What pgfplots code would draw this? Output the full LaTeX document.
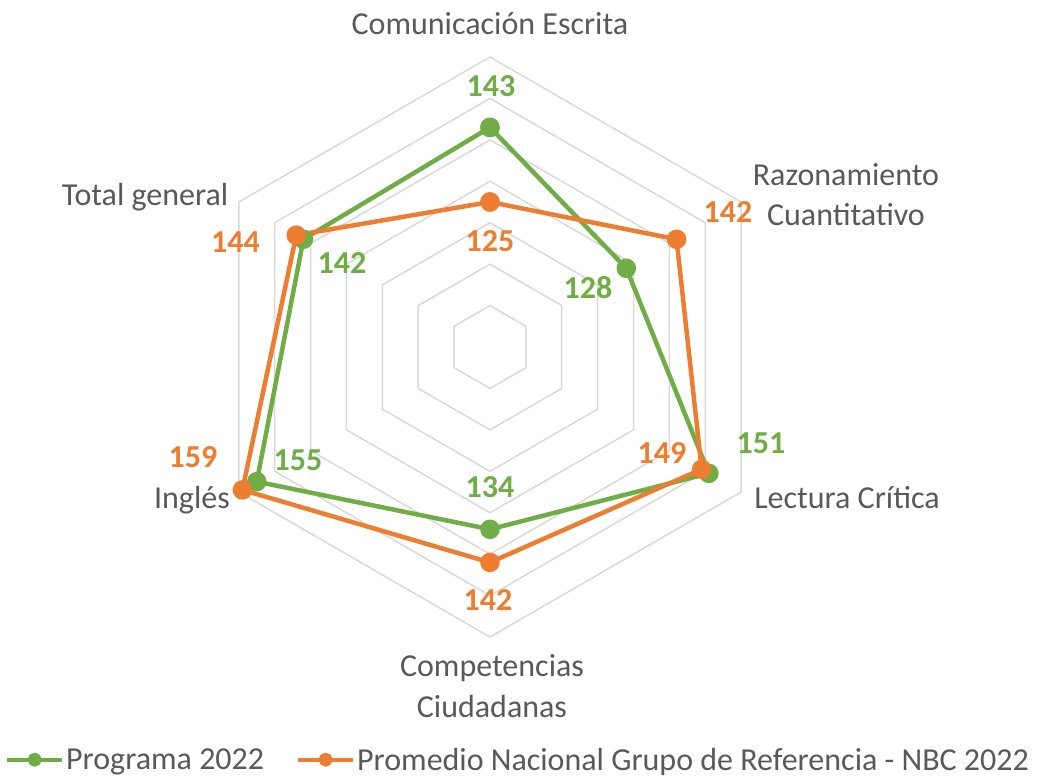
\documentclass[border=0pt]{standalone}
\usepackage{pgfplots}
\pgfplotsset{compat=1.18}
\usepgfplotslibrary{polar}
\usepackage{pgfplotstable}
\usepackage{fontspec}
\setmainfont{Carlito}

\definecolor{prog}{HTML}{70AD47}
\definecolor{nbc}{HTML}{ED7D31}
\definecolor{txt}{HTML}{595959}
\definecolor{ring}{HTML}{D9D9D9}

% angle (deg), Programa 2022, Promedio NBC 2022 ; last row closes the polygon
\pgfplotstableread{
ang  prog nbc
90   143  125
30   128  142
-30  151  149
-90  134  142
-150 155  159
150  142  144
90   143  125
}\scores

\newcommand{\chartfont}{\fontsize{32}{39}\selectfont}

\begin{document}
\begin{tikzpicture}
\begin{polaraxis}[
    at={(0,0)}, anchor=center,
    scale only axis, width=580pt, height=580pt,
    ymin=0, ymax=70,
    hide axis, clip=false,
    legend columns=2,
    legend cell align=left,
    legend style={at={(-0.3362,-0.2115)}, anchor=west, draw=none, fill=none,
      inner sep=0pt, font=\chartfont, text=txt, nodes={inner sep=2pt},
      /tikz/every even column/.append style={column sep=30pt}},
    legend image code/.code={
      \draw[#1, mark size=5pt, line width=4pt, mark repeat=2, mark phase=2]
        plot coordinates {(0pt,0pt) (27.5pt,0pt) (55pt,0pt)};},
  ]
  % hexagon grid, 100 .. 160 (radius = value - 90)
  \pgfplotsinvokeforeach{10,20,30,40,50,60,70}{
    \addplot[ring, line width=1.5pt, forget plot]
      coordinates {(90,#1) (30,#1) (-30,#1) (-90,#1) (-150,#1) (150,#1) (90,#1)};
  }
  \addplot[prog, line width=4.5pt, line join=round, mark=*, mark size=7.5pt]
    table[x=ang, y expr=\thisrow{prog}-90] {\scores};
  \addlegendentry{Programa 2022}
  \addplot[nbc, line width=4.5pt, line join=round, mark=*, mark size=7.5pt]
    table[x=ang, y expr=\thisrow{nbc}-90] {\scores};
  \addlegendentry{Promedio Nacional Grupo de Referencia - NBC 2022}
  \coordinate (O) at (axis cs:0,0);
\end{polaraxis}

\pgfresetboundingbox
\useasboundingbox ([shift={(-490pt,347pt)}]O) rectangle ([shift={(547pt,-430pt)}]O);

\begin{scope}[shift={(O)}, every node/.style={inner sep=0pt, anchor=base}]
  % category labels (two-line nodes: base = last line)
  \begin{scope}[font=\chartfont, text=txt]
    \node at (0pt,312pt) {Comunicación Escrita};
    \node[align=center] at (356pt,122pt) {Razonamiento\\[1pt]Cuantitativo};
    \node at (357pt,-161pt) {Lectura Crítica};
    \node[align=center] at (2pt,-370pt) {Competencias\\[2pt]Ciudadanas};
    \node at (-298pt,-161pt) {Inglés};
    \node at (-345pt,142pt) {Total general};
  \end{scope}
  % data labels
  \begin{scope}[font=\chartfont\bfseries]
    \node[text=prog] at (1pt,250pt) {143};
    \node[text=nbc] at (0pt,96pt) {125};
    \node[text=prog] at (98pt,49pt) {128};
    \node[text=nbc] at (238pt,125pt) {142};
    \node[text=prog] at (271pt,-106pt) {151};
    \node[text=nbc] at (172pt,-116pt) {149};
    \node[text=prog] at (0pt,-150pt) {134};
    \node[text=nbc] at (-2pt,-263pt) {142};
    \node[text=prog] at (-192pt,-123pt) {155};
    \node[text=nbc] at (-297pt,-120pt) {159};
    \node[text=prog] at (-148pt,74pt) {142};
    \node[text=nbc] at (-254.5pt,95pt) {144};
  \end{scope}
\end{scope}
\end{tikzpicture}
\end{document}
